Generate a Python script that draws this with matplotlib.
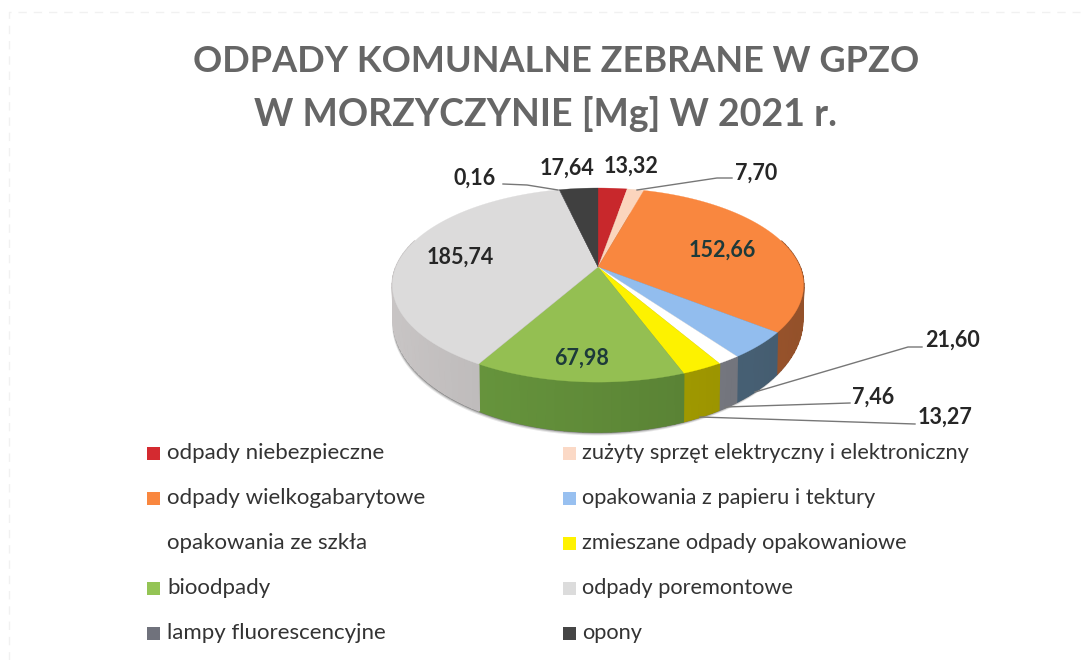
import numpy as np
import matplotlib
matplotlib.use('Agg')
import matplotlib.pyplot as plt
from matplotlib.colors import to_rgb
from matplotlib.patches import Rectangle

plt.rcParams['font.family'] = ['Lato', 'DejaVu Sans']

## dane
kategorie = ['odpady niebezpieczne', 'zużyty sprzęt elektryczny i elektroniczny',
             'odpady wielkogabarytowe', 'opakowania z papieru i tektury',
             'opakowania ze szkła', 'zmieszane odpady opakowaniowe',
             'bioodpady', 'odpady poremontowe',
             'lampy fluorescencyjne', 'opony']
wartosci = [13.32, 7.70, 152.66, 21.60, 7.46, 13.27, 67.98, 185.74, 0.16, 17.64]
etykiety = ['13,32', '7,70', '152,66', '21,60', '7,46', '13,27', '67,98', '185,74', '0,16', '17,64']

kolory_gora = ['#c8282c', '#fbd5bd', '#f9873f', '#92bdee', '#ffffff', '#fdf200',
               '#94bf52', '#dcdbdb', '#77777f', '#404040']
kolory_bok = ['#8c1c20', '#c9a58f', '#a85c30', '#4d687e', '#7d7f88', '#a8a000',
              '#5f8a38', '#b2afaf', '#55555c', '#2c2c2c']
kolory_legenda = ['#d42a30', '#fbd9c6', '#f9873f', '#98c0f0', '#ffffff', '#fff200',
                  '#94c455', '#dcdcdc', '#70727c', '#454545']

## geometria kola
cx, cy = 598, 267
sx, sy = 202, 93.7
p = 0.186
grubosc = 33


def punkty(t, dol=False):
    X, Y = np.sin(t), np.cos(t)
    w = 1 + p * Y
    x = cx + sx * X / w
    y = cy - sy * Y / w
    if dol:
        y = y + grubosc / w ** 2
        x = cx + (x - cx) * 0.995
    return x, y


fig = plt.figure(figsize=(10.82, 6.6), dpi=100, facecolor='#ffffff')
ax = fig.add_axes([0, 0, 1, 1])
ax.set_xlim(0, 1082)
ax.set_ylim(660, 0)
ax.axis('off')

## slady ramki ze skanu
ax.plot([9, 9, 1080], [660, 12, 12], color='#f1f1f1', lw=1, ls=(0, (6, 5)), zorder=0)

granice = np.cumsum([0] + wartosci) / sum(wartosci) * 2 * np.pi

## cien pod kolem
tt = np.linspace(0, 2 * np.pi, 300)
for d, a in [(3.5, 0.12), (2.5, 0.2), (1.5, 0.35), (0.7, 0.5)]:
    x, y = punkty(tt, dol=True)
    ax.fill(x - d * 0.4, y + d, color='#333333', alpha=a, lw=0, zorder=1)

## boki, paskami zeby bylo lekkie cieniowanie
for i in range(len(wartosci)):
    t = np.linspace(granice[i], granice[i + 1], max(3, int(wartosci[i] / 3) + 2))
    for a, b in zip(t[:-1], t[1:]):
        tp = np.linspace(a, b, 8)
        ## tyl kola i tak jest zasloniety
        if np.cos(tp).mean() > 0.3:
            continue
        x1, y1 = punkty(tp)
        x2, y2 = punkty(tp[::-1], dol=True)
        f = 1 - 0.12 * (x1.mean() - cx) / sx
        kol = np.clip(np.array(to_rgb(kolory_bok[i])) * f, 0, 1)
        ax.fill(np.r_[x1, x2], np.r_[y1, y2], color=kol, lw=1.2, zorder=2)

## gora
for i in range(len(wartosci)):
    t = np.linspace(granice[i], granice[i + 1], 80)
    x, y = punkty(t)
    ax.fill(np.r_[cx, x], np.r_[cy, y], color=kolory_gora[i], lw=0.2, zorder=3)

## etykiety
pozycje = {0: (631, 166), 1: (756, 173), 2: (722, 250), 3: (953, 340), 4: (873, 397),
           5: (945, 417), 6: (582, 358), 7: (460, 257), 8: (475, 178), 9: (567, 168)}
for i, (x, y) in pozycje.items():
    kol = '#1d3a3a' if i in (2, 6) else '#262626'
    ax.text(x, y, etykiety[i], ha='center', va='center', fontsize=15.5, fontweight='bold', color=kol, zorder=5)

## linie odniesienia
linie = [([503, 527, 558], [184, 185, 190]),
         ([732, 717, 637], [178, 178, 190]),
         ([922, 908, 755], [347, 347, 392]),
         ([850, 725], [403, 407]),
         ([915, 700], [424, 417])]
for xs, ys in linie:
    ax.plot(xs, ys, color='#777777', lw=1, zorder=4)

## legenda
wiersze = [453, 498, 543, 588, 633]
for i, nazwa in enumerate(kategorie):
    y = wiersze[i // 2]
    x_kw, x_txt, rozm = (147, 167, 16) if i % 2 == 0 else (563, 582, 15.7)
    ax.add_patch(Rectangle((x_kw, y - 6.5), 13, 13, facecolor=kolory_legenda[i], edgecolor='none', zorder=3))
    ax.text(x_txt, y, nazwa, ha='left', va='center', fontsize=rozm, color='#333333')

## tytul
ax.text(556, 62, 'ODPADY KOMUNALNE ZEBRANE W GPZO', ha='center', va='center',
        fontsize=26, fontweight='bold', color='#666666')
ax.text(546, 114, 'W MORZYCZYNIE [Mg] W 2021 r.', ha='center', va='center',
        fontsize=27, fontweight='bold', color='#666666')

fig.savefig('out.png', dpi=100, facecolor=fig.get_facecolor())
